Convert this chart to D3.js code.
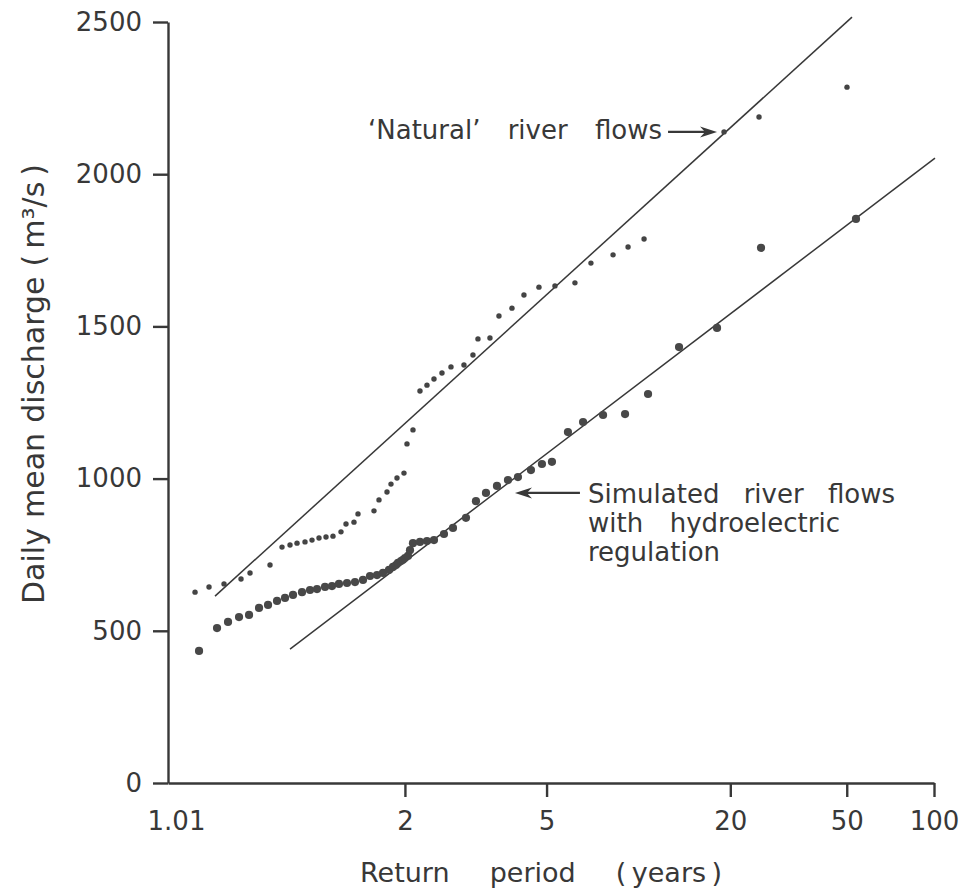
<!DOCTYPE html>
<html><head><meta charset="utf-8">
<script src="https://cdn.jsdelivr.net/npm/d3@7"></script>
<style>
html,body{margin:0;padding:0;background:#fff;}
svg{display:block;}
</style></head><body>
<svg id="chart" width="963" height="890"></svg>
<script>
// ---- data ----
const returnPeriodTicks = [1.01, 2, 5, 20, 50, 100];
const returnPeriodLabels = ["1.01", "2", "5", "20", "50", "100"];
const dischargeTicks = [0, 500, 1000, 1500, 2000, 2500];

// Gumbel reduced variate (position on the return-period probability axis) of each plotted flow
const naturalVariate = [-1.313, -1.201, -1.081, -0.945, -0.873, -0.713, -0.617, -0.553, -0.497, -0.433,
  -0.377, -0.321, -0.265, -0.209, -0.145, -0.105, -0.041, -0.009, 0.119, 0.159,
  0.223, 0.255, 0.303, 0.359, 0.383, 0.431, 0.487, 0.543, 0.599, 0.663,
  0.735, 0.839, 0.911, 0.951, 1.047, 1.119, 1.223, 1.319, 1.439, 1.567,
  1.727, 1.855, 2.032, 2.152, 2.280, 2.920, 3.200, 3.904];
const naturalDischarge = [627, 644, 654, 670, 690, 716, 775, 782, 788, 792,
  798, 805, 808, 811, 825, 851, 857, 884, 894, 930,
  956, 982, 1002, 1018, 1114, 1160, 1288, 1307, 1327, 1347,
  1367, 1373, 1406, 1459, 1462, 1534, 1560, 1603, 1629, 1633,
  1643, 1708, 1735, 1761, 1787, 2139, 2188, 2286];

const simulatedVariate = [-1.281, -1.137, -1.049, -0.961, -0.881, -0.801, -0.729, -0.657, -0.593, -0.529,
  -0.457, -0.393, -0.337, -0.273, -0.217, -0.161, -0.097, -0.033, 0.031, 0.087,
  0.143, 0.191, 0.239, 0.271, 0.295, 0.311, 0.335, 0.351, 0.367, 0.391,
  0.407, 0.431, 0.487, 0.543, 0.599, 0.679, 0.751, 0.855, 0.935, 1.015,
  1.103, 1.191, 1.271, 1.375, 1.463, 1.543, 1.671, 1.792, 1.952, 2.128,
  2.312, 2.560, 2.864, 3.216, 3.976];
const simulatedDischarge = [434, 509, 529, 545, 552, 575, 585, 598, 608, 618,
  627, 634, 637, 644, 647, 654, 657, 660, 667, 680,
  683, 690, 700, 710, 716, 723, 729, 733, 739, 746,
  765, 788, 792, 795, 798, 818, 838, 871, 926, 953,
  976, 995, 1005, 1028, 1048, 1055, 1153, 1186, 1209, 1212,
  1278, 1432, 1495, 1758, 1853];

// fitted straight lines (end points)
const naturalFitVariate = [-1.153, 3.944];
const naturalFitDischarge = [614, 2516];
const simulatedFitVariate = [-0.553, 4.608];
const simulatedFitDischarge = [440, 2053];

// ---- chart ----
const FONT = '"DejaVu Sans", sans-serif';
const ink = "#383838";
const gumbel = T => -Math.log(-Math.log(1 - 1 / T));

const svg = d3.select("#chart");
svg.append("rect").attr("width", 963).attr("height", 890).attr("fill", "#fff");

const x = d3.scaleLinear().domain([gumbel(1.01), gumbel(100)]).range([168, 934]);
const y = d3.scaleLinear().domain([0, 2500]).range([783, 22]);

// axes
const gx = svg.append("g").attr("transform", `translate(0,${y(0)})`)
  .call(d3.axisBottom(x)
    .tickValues(returnPeriodTicks.map(gumbel))
    .tickFormat((d, i) => returnPeriodLabels[i])
    .tickSize(14).tickSizeOuter(0).tickPadding(15));
const firstTick = gx.selectAll(".tick").filter((d, i) => i === 0);
firstTick.select("line").remove();
firstTick.select("text").attr("dx", 8);

const gy = svg.append("g").attr("transform", `translate(${x(gumbel(1.01))},0)`)
  .call(d3.axisLeft(y).tickValues(dischargeTicks).tickFormat(d3.format("d"))
    .tickSize(15).tickSizeOuter(0).tickPadding(11));

[gx, gy].forEach(g => {
  g.attr("font-family", FONT).attr("font-size", 26);
  g.selectAll("path.domain").attr("stroke", ink).attr("stroke-width", 2.4);
  g.selectAll(".tick line").attr("stroke", ink).attr("stroke-width", 2.4);
  g.selectAll(".tick text").attr("fill", ink);
});

// fitted lines
const line = d3.line().x(d => x(d[0])).y(d => y(d[1]));
[[naturalFitVariate, naturalFitDischarge], [simulatedFitVariate, simulatedFitDischarge]].forEach(([gv, q]) => {
  svg.append("path").datum(gv.map((v, i) => [v, q[i]]))
    .attr("d", line).attr("fill", "none").attr("stroke", ink).attr("stroke-width", 1.5);
});

// points
svg.append("g").selectAll("circle")
  .data(naturalVariate.map((v, i) => [v, naturalDischarge[i]]))
  .join("circle").attr("cx", d => x(d[0])).attr("cy", d => y(d[1])).attr("r", 2.7).attr("fill", "#444");
svg.append("g").selectAll("circle")
  .data(simulatedVariate.map((v, i) => [v, simulatedDischarge[i]]))
  .join("circle").attr("cx", d => x(d[0])).attr("cy", d => y(d[1])).attr("r", 4.1).attr("fill", "#484848");

// helper: text with word gaps stretched to a given width
function fitText(sel, width) {
  sel.style("word-spacing", "0px");
  const w = sel.node().getComputedTextLength();
  const n = (sel.text().match(/ /g) || []).length;
  if (n > 0) sel.style("word-spacing", Math.max(0, (width - w) / n) + "px");
}
function addText(txt, px, py, size, width, rotate) {
  const t = svg.append("text").attr("font-family", FONT).attr("font-size", size)
    .attr("fill", ink).style("white-space", "pre").text(txt);
  if (rotate) t.attr("transform", `translate(${px},${py}) rotate(-90)`);
  else t.attr("x", px).attr("y", py);
  if (width) fitText(t, width);
  return t;
}

// axis titles (thin spaces inside the brackets are not stretched)
addText("Return period (\u2009years\u2009)", 360, 882, 27, 362);
addText("Daily mean discharge (\u2009m³/s\u2009)", 44, 604, 30, 440, true);

// annotations
addText("‘Natural’ river flows", 368, 139, 26, 294);
addText("Simulated river flows", 588, 503, 26, 307);
addText("with hydroelectric", 588, 532, 26, 252);
addText("regulation", 588, 561, 26, 0);

// arrows (anchored in data space)
function arrow(from, to) {
  const x0 = x(from[0]), y0 = y(from[1]), x1 = x(to[0]), y1 = y(to[1]);
  const dir = Math.sign(x1 - x0);
  svg.append("line").attr("x1", x0).attr("y1", y0).attr("x2", x1 - dir * 8).attr("y2", y1)
    .attr("stroke", ink).attr("stroke-width", 2.2);
  svg.append("path")
    .attr("d", `M${x1},${y1}L${x1 - dir * 17},${y1 - 5.5}L${x1 - dir * 12},${y1}L${x1 - dir * 17},${y1 + 5.5}Z`)
    .attr("fill", ink);
}
arrow([2.472, 2139], [2.864, 2139]);
arrow([1.767, 953], [1.247, 953]);
</script>
</body></html>
